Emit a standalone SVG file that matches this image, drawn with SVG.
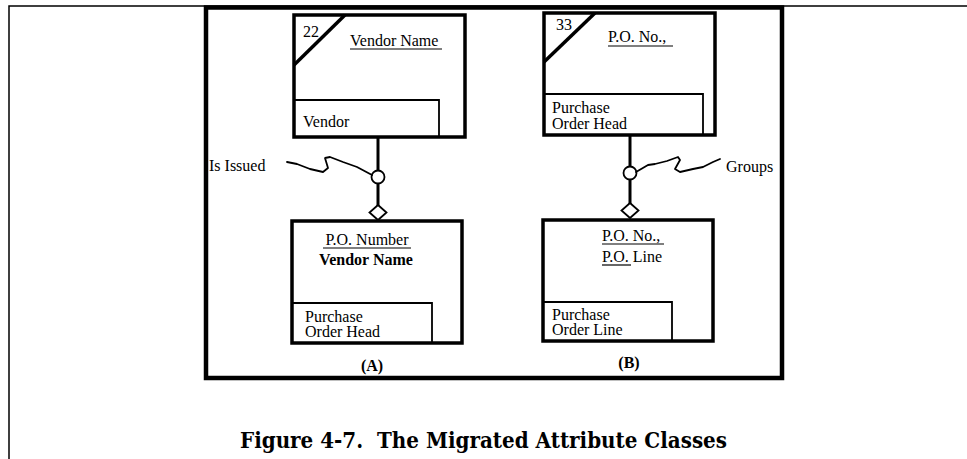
<svg xmlns="http://www.w3.org/2000/svg" width="967" height="459" viewBox="0 0 967 459">
<style>
.t{font-family:"Liberation Serif","Times New Roman",serif;font-size:16px;fill:#000}
.b{font-weight:bold}
.box{fill:#fff;stroke:#000;stroke-width:3.5}
.sub{fill:none;stroke:#000;stroke-width:1.8}
.diag{stroke:#000;stroke-width:3.5}
.ul{stroke:#000;stroke-width:1.2}
.conn{stroke:#000;stroke-width:3;fill:none}
.circ{fill:#fff;stroke:#000;stroke-width:1.8}
.sq{fill:none;stroke:#000;stroke-width:1.8;stroke-linejoin:round;stroke-linecap:round}
</style>
<rect width="967" height="459" fill="#fff"/>
<path d="M9,459 V6 H967" fill="none" stroke="#000" stroke-width="1.5"/>
<rect x="206" y="7.5" width="576" height="370.5" fill="none" stroke="#000" stroke-width="4.5"/>

<g id="connectors">
  <line class="conn" x1="378" y1="137" x2="378" y2="206"/>
  <circle class="circ" cx="378" cy="177" r="6.5"/>
  <polygon class="circ" points="378,205 386.5,212.5 378,220 369.5,212.5"/>
  <path class="sq" d="M287,162 L297,164 L310,169 L323,172 L328,168 L325,158 L330,157 L343,162 L357,167 L372,175"/>
  <line class="conn" x1="630" y1="135" x2="630" y2="204"/>
  <circle class="circ" cx="630" cy="173" r="6.5"/>
  <polygon class="circ" points="630,203 638.5,210.5 630,218 621.5,210.5"/>
  <path class="sq" d="M636,172 L648,165 L655,164 L667,161 L678,157 L680,160 L675,169 L680,172 L693,169 L703,167 L713,162 L720,159"/>
  <text class="t" x="209" y="171">Is Issued</text>
  <text class="t" x="726" y="172">Groups</text>
</g>

<g id="vendor">
  <rect class="box" x="294" y="15" width="171" height="122"/>
  <line class="diag" x1="294" y1="65" x2="345" y2="15"/>
  <text class="t" x="303" y="37">22</text>
  <text class="t" x="350" y="46">Vendor Name</text>
  <line class="ul" x1="350" y1="49" x2="442" y2="49"/>
  <path class="sub" d="M294,100 H439 V137"/>
  <text class="t" x="303" y="127">Vendor</text>
</g>

<g id="po-head-a">
  <rect class="box" x="292" y="221" width="170" height="122"/>
  <text class="t" x="367" y="245" text-anchor="middle">P.O. Number</text>
  <line class="ul" x1="323" y1="248" x2="411" y2="248"/>
  <text class="t b" x="366" y="265" text-anchor="middle" font-size="15.5">Vendor Name</text>
  <path class="sub" d="M292,303 H432 V343"/>
  <text class="t" x="305" y="321.5">Purchase</text>
  <text class="t" x="305" y="337">Order Head</text>
  <text class="t b" x="372" y="371" text-anchor="middle">(A)</text>
</g>

<g id="po-head-b">
  <rect class="box" x="544" y="13" width="171" height="122"/>
  <line class="diag" x1="544" y1="62" x2="595" y2="13"/>
  <text class="t" x="556" y="30">33</text>
  <text class="t" x="608" y="42">P.O. No.,</text>
  <line class="ul" x1="608" y1="46" x2="673" y2="46"/>
  <path class="sub" d="M544,94 H703 V135"/>
  <text class="t" x="552" y="113">Purchase</text>
  <text class="t" x="552" y="129">Order Head</text>
</g>

<g id="po-line">
  <rect class="box" x="543" y="220" width="170" height="121"/>
  <text class="t" x="602" y="241">P.O. No.,</text>
  <line class="ul" x1="602" y1="244" x2="664" y2="244"/>
  <text class="t" x="602" y="262">P.O. Line</text>
  <line class="ul" x1="602" y1="265" x2="631" y2="265"/>
  <path class="sub" d="M543,302 H672 V341"/>
  <text class="t" x="552" y="319.5">Purchase</text>
  <text class="t" x="552" y="335">Order Line</text>
  <text class="t b" x="629" y="368" text-anchor="middle">(B)</text>
</g>

<text x="240" y="448" font-family="'DejaVu Serif',serif" font-weight="bold" font-size="22" textLength="487" lengthAdjust="spacingAndGlyphs" xml:space="preserve">Figure 4-7.  The Migrated Attribute Classes</text>
</svg>
